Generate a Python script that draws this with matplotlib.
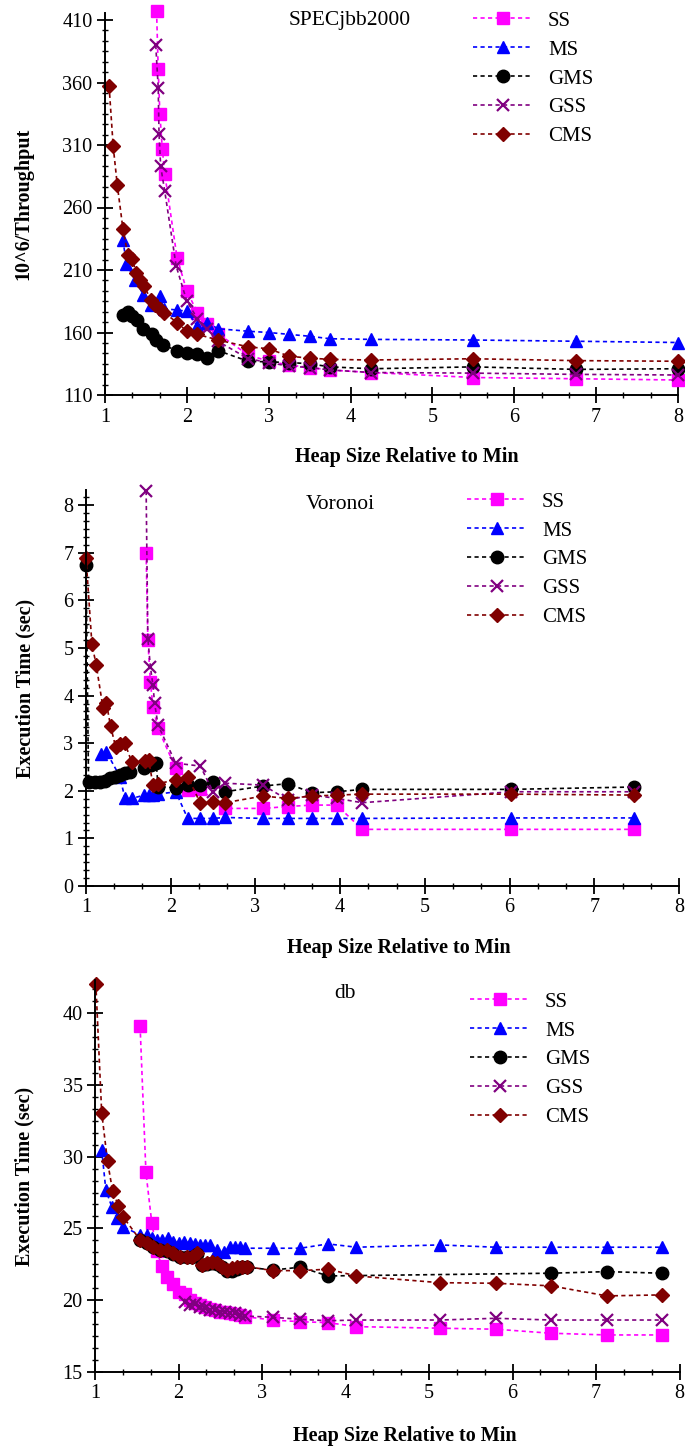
import matplotlib
matplotlib.use('Agg')
import matplotlib.pyplot as plt
from matplotlib.ticker import MultipleLocator, AutoMinorLocator

plt.rcParams['font.family'] = ['Liberation Serif', 'DejaVu Serif']

W, H = 685, 1449

# ---- SPECjbb2000 ----
ss1_x = [1.63, 1.65, 1.67, 1.70, 1.73, 1.88, 2.00, 2.13, 2.25, 2.38, 2.75, 3.00, 3.25, 3.50, 3.75, 4.25, 5.50, 6.75, 8.00]
ss1_y = [417, 371, 335, 307, 287, 220, 193, 176, 167, 159, 142, 137, 134, 132, 130, 128, 124, 123, 122]
ms1_x = [1.22, 1.26, 1.37, 1.47, 1.56, 1.67, 1.72, 1.88, 2.00, 2.13, 2.25, 2.38, 2.75, 3.00, 3.25, 3.50, 3.75, 4.25, 5.50, 6.75, 8.00]
ms1_y = [234, 215, 202, 190, 182, 189, 179, 178, 177, 165, 168, 163, 161, 160, 158.5, 157, 155, 154.5, 154, 153, 152]
gms1_x = [1.22, 1.28, 1.33, 1.39, 1.46, 1.57, 1.62, 1.71, 1.88, 2.00, 2.13, 2.25, 2.38, 2.75, 3.00, 3.25, 3.50, 3.75, 4.25, 5.50, 6.75, 8.00]
gms1_y = [174, 176.5, 173, 170, 163, 159, 154, 150, 145.5, 144, 142.5, 140, 145.5, 137, 136.5, 136, 135, 132.5, 131, 132.5, 130.5, 131]
gss1_x = [1.62, 1.65, 1.66, 1.68, 1.73, 1.87, 2.00, 2.13, 2.25, 2.38, 2.75, 3.00, 3.25, 3.50, 3.75, 4.25, 5.50, 6.75, 8.00]
gss1_y = [390, 356, 319, 293, 273, 213, 185, 171, 163, 153, 139, 136, 133, 132, 130, 128, 127.5, 126.5, 126]
cms1_x = [1.05, 1.10, 1.15, 1.22, 1.28, 1.33, 1.38, 1.43, 1.48, 1.56, 1.61, 1.67, 1.72, 1.88, 2.00, 2.13, 2.38,
          2.75, 3.00, 3.25, 3.50, 3.75, 4.25, 5.50, 6.75, 8.00]
cms1_y = [357, 309, 278, 242.5, 222, 219, 208, 202, 197, 186, 182, 178.5, 176, 168, 161, 158.5, 154,
          148.5, 147, 141, 139.5, 138.5, 138, 139, 137.5, 137]

# ---- Voronoi ----
ss2_x = [1.71, 1.73, 1.76, 1.79, 1.85, 2.06, 2.20, 2.35, 2.64, 3.09, 3.38, 3.67, 3.96, 4.26, 6.02, 7.47]
ss2_y = [7.00, 5.17, 4.29, 3.77, 3.31, 2.47, 2.02, 2.03, 1.63, 1.63, 1.67, 1.70, 1.70, 1.19, 1.19, 1.19]
ms2_x = [1.18, 1.24, 1.40, 1.46, 1.54, 1.69, 1.74, 1.79, 1.85, 2.06, 2.20, 2.35, 2.50, 2.64, 3.09, 3.38, 3.67, 3.96, 4.26, 6.02, 7.47]
ms2_y = [2.78, 2.82, 2.30, 1.84, 1.84, 1.91, 1.91, 1.92, 1.93, 1.98, 1.42, 1.42, 1.42, 1.44, 1.42, 1.42, 1.42, 1.42, 1.42, 1.43, 1.43]
gms2_x = [1.00, 1.03, 1.11, 1.16, 1.22, 1.28, 1.34, 1.40, 1.46, 1.52, 1.69, 1.77, 1.83, 1.85, 2.06, 2.20, 2.35, 2.50, 2.64,
          3.09, 3.38, 3.67, 3.96, 4.26, 6.02, 7.47]
gms2_y = [6.75, 2.19, 2.19, 2.19, 2.21, 2.26, 2.30, 2.33, 2.37, 2.40, 2.47, 2.54, 2.58, 2.09, 2.06, 2.12, 2.12, 2.19, 1.98,
          2.10, 2.15, 1.96, 1.98, 2.03, 2.03, 2.08]
gss2_x = [1.71, 1.73, 1.76, 1.79, 1.81, 1.85, 2.06, 2.35, 2.50, 2.64, 3.09, 3.38, 3.67, 3.96, 4.26, 6.02, 7.47]
gss2_y = [8.30, 5.20, 4.61, 4.22, 3.84, 3.38, 2.58, 2.52, 1.98, 2.16, 2.12, 1.81, 1.91, 1.84, 1.75, 1.98, 1.98]
cms2_x = [1.00, 1.07, 1.12, 1.20, 1.24, 1.29, 1.35, 1.40, 1.46, 1.54, 1.70, 1.74, 1.79, 1.85, 2.06, 2.20, 2.35, 2.50, 2.64,
          3.09, 3.38, 3.67, 3.96, 4.26, 6.02, 7.47]
cms2_y = [6.90, 5.08, 4.65, 3.75, 3.85, 3.36, 2.92, 2.98, 3.00, 2.60, 2.62, 2.65, 2.13, 2.15, 2.23, 2.30, 1.74, 1.77, 1.75,
          1.89, 1.84, 1.89, 1.91, 1.93, 1.93, 1.91]

# ---- db ----
ss3_x = [1.54, 1.61, 1.68, 1.74, 1.80, 1.86, 1.93, 2.00, 2.08, 2.14, 2.20, 2.26, 2.32, 2.38, 2.44, 2.50, 2.56, 2.62, 2.68,
         2.74, 2.80, 3.13, 3.46, 3.79, 4.13, 5.13, 5.80, 6.46, 7.13, 7.79]
ss3_y = [39.1, 28.9, 25.4, 23.4, 22.4, 21.6, 21.1, 20.6, 20.4, 20.0, 19.8, 19.65, 19.5, 19.4, 19.3, 19.2, 19.15, 19.1, 19.05,
         19.0, 18.85, 18.62, 18.5, 18.44, 18.16, 18.05, 17.98, 17.7, 17.58, 17.58]
ms3_x = [1.08, 1.13, 1.20, 1.26, 1.33, 1.54, 1.62, 1.68, 1.74, 1.80, 1.88, 1.94, 2.00, 2.06, 2.14, 2.20, 2.26, 2.32, 2.38,
         2.46, 2.54, 2.62, 2.68, 2.74, 2.80, 3.13, 3.46, 3.79, 4.13, 5.13, 5.80, 6.46, 7.13, 7.79]
ms3_y = [30.47, 27.68, 26.52, 25.71, 25.13, 24.55, 24.55, 24.31, 24.2, 24.2, 24.3, 24.08, 24.0, 24.08, 24.0, 23.92, 23.85,
         23.85, 23.85, 23.5, 23.38, 23.73, 23.73, 23.73, 23.62, 23.62, 23.62, 23.92, 23.69, 23.85, 23.69, 23.69, 23.69, 23.69]
gms3_x = [1.54, 1.62, 1.70, 1.78, 1.86, 1.94, 2.02, 2.10, 2.16, 2.22, 2.28, 2.34, 2.40, 2.46, 2.52, 2.58, 2.64, 2.70, 2.76,
          2.82, 3.13, 3.46, 3.79, 6.46, 7.13, 7.79]
gms3_y = [24.2, 23.95, 23.7, 23.5, 23.45, 23.25, 23.0, 23.0, 23.0, 23.2, 22.45, 22.5, 22.6, 22.5, 22.3, 22.0, 22.0, 22.2,
          22.3, 22.3, 22.1, 22.3, 21.69, 21.88, 21.99, 21.88]
gss3_x = [2.08, 2.14, 2.20, 2.26, 2.32, 2.38, 2.44, 2.50, 2.56, 2.62, 2.68, 2.74, 2.80, 3.13, 3.46, 3.79, 4.13, 5.13, 5.80,
          6.46, 7.13, 7.79]
gss3_y = [19.9, 19.7, 19.75, 19.55, 19.45, 19.35, 19.3, 19.2, 19.2, 19.1, 19.1, 19.0, 18.9, 18.81, 18.67, 18.57, 18.62,
          18.62, 18.74, 18.62, 18.62, 18.62]
cms3_x = [1.01, 1.08, 1.15, 1.21, 1.28, 1.34, 1.54, 1.62, 1.70, 1.78, 1.86, 1.94, 2.02, 2.10, 2.16, 2.22, 2.28, 2.34, 2.40,
          2.46, 2.52, 2.58, 2.64, 2.70, 2.76, 2.82, 3.13, 3.46, 3.79, 4.13, 5.13, 5.80, 6.46, 7.13, 7.79]
cms3_y = [42.04, 33.07, 29.66, 27.63, 26.57, 25.78, 24.2, 23.97, 23.7, 23.5, 23.5, 23.27, 23.03, 23.03, 23.03, 23.3, 22.46,
          22.57, 22.69, 22.57, 22.34, 22.11, 22.23, 22.34, 22.34, 22.34, 22.06, 22.06, 22.16, 21.69, 21.22, 21.18, 21.0,
          20.30, 20.37]

labels = ['SS', 'MS', 'GMS', 'GSS', 'CMS']
colors = ['#ff00ff', '#0000ff', '#000000', '#800080', '#800000']
markers = ['s', '^', 'o', 'x', 'D']
msizes = [9, 9, 9, 9, 7]

panels = [
    dict(title='SPECjbb2000', ylabel='10^6/Throughput',
         series=[(ss1_x, ss1_y), (ms1_x, ms1_y), (gms1_x, gms1_y), (gss1_x, gss1_y), (cms1_x, cms1_y)],
         box=(105, 678, 12.5, 395), ylim=(110, 416), yticks=[110, 160, 210, 260, 310, 360, 410],
         ylab_x=-0.143, xlab=(0.527, -0.162), title_xy=(350, 20), leg_xy=(473, 11)),
    dict(title='Voronoi', ylabel='Execution Time (sec)',
         series=[(ss2_x, ss2_y), (ms2_x, ms2_y), (gms2_x, gms2_y), (gss2_x, gss2_y), (cms2_x, cms2_y)],
         box=(86, 679, 490, 886), ylim=(0, 8.32), yticks=list(range(0, 9)),
         ylab_x=-0.1025, xlab=(0.528, -0.157), title_xy=(340, 505), leg_xy=(467, 492)),
    dict(title='db', ylabel='Execution Time (sec)',
         series=[(ss3_x, ss3_y), (ms3_x, ms3_y), (gms3_x, gms3_y), (gss3_x, gss3_y), (cms3_x, cms3_y)],
         box=(95, 679.5, 980, 1372), ylim=(15, 42.3), yticks=[15, 20, 25, 30, 35, 40],
         ylab_x=-0.12, xlab=(0.53, -0.163), title_xy=(345, 993), leg_xy=(470, 992)),
]

fig = plt.figure(figsize=(W / 100, H / 100), dpi=100)

for p in panels:
    l, r, t, b = p['box']
    ax = fig.add_axes([l / W, 1 - b / H, (r - l) / W, (b - t) / H])
    for (xs, ys), lab, c, m, ms in zip(p['series'], labels, colors, markers, msizes):
        ax.plot(xs, ys, linestyle=(0, (2.5, 2)), linewidth=1.2, color=c, marker=m, markersize=ms,
                markeredgecolor=c, markeredgewidth=1.6 if m == 'x' else 1.0, label=lab, clip_on=False)
    ax.set_xlim(1, 8)
    ax.set_ylim(*p['ylim'])
    ax.set_xticks(range(1, 9))
    ax.xaxis.set_minor_locator(MultipleLocator(1 / 3))
    ax.set_yticks(p['yticks'])
    # Origin style: 5 minor ticks between majors
    ax.yaxis.set_minor_locator(AutoMinorLocator(6))
    for s in ['top', 'right']:
        ax.spines[s].set_visible(False)
    for s in ['left', 'bottom']:
        ax.spines[s].set_linewidth(1.4)
    ax.tick_params(which='major', direction='inout', length=12, width=1.3, labelsize=14.5, pad=3)
    ax.tick_params(which='minor', direction='inout', length=5, width=1.0)
    ax.set_ylabel(p['ylabel'], fontsize=14.5, fontweight='bold')
    ax.yaxis.set_label_coords(p['ylab_x'], 0.5)
    ax.yaxis.label.set_va('center')
    ax.set_xlabel('Heap Size Relative to Min', fontsize=14.5, fontweight='bold')
    ax.xaxis.set_label_coords(*p['xlab'])
    ax.xaxis.label.set_va('center')
    fig.text(p['title_xy'][0] / W, 1 - p['title_xy'][1] / H, p['title'], fontsize=15.5, ha='center', va='center')
    ax.legend(loc='upper left', bbox_to_anchor=(p['leg_xy'][0] / W, 1 - p['leg_xy'][1] / H),
              bbox_transform=fig.transFigure, frameon=False, fontsize=15, numpoints=1,
              handlelength=2.9, handletextpad=0.7, labelspacing=0.45, borderpad=0, borderaxespad=0)

fig.savefig('out.png', dpi=100)
